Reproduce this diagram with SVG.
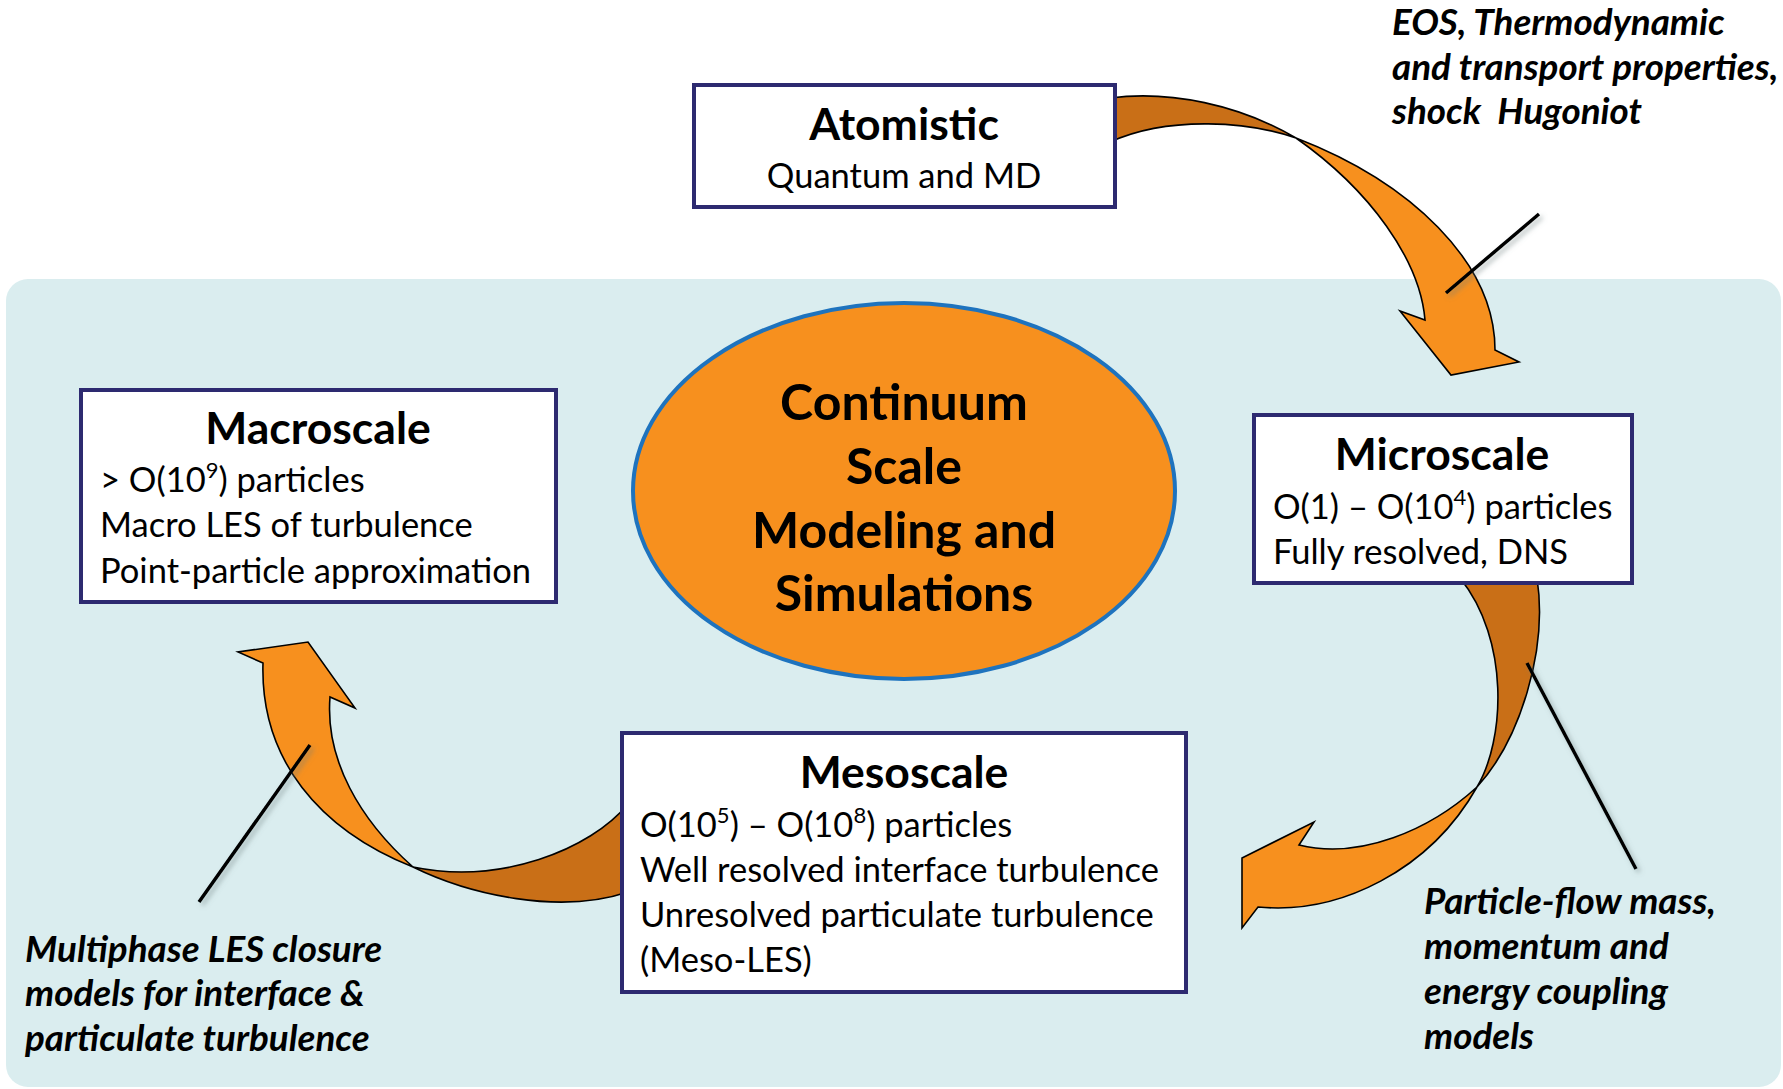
<svg xmlns="http://www.w3.org/2000/svg" width="1783" height="1089" viewBox="0 0 1783 1089">
<defs>
<style>
.bg{fill:#DAEDEF}
.box{fill:#FFFFFF;stroke:#2D2A70;stroke-width:4}
.hd{font-family:Lato,"Liberation Sans",sans-serif;font-weight:bold;font-size:44.5px;fill:#000;text-anchor:middle}
.bd{font-family:Lato,"Liberation Sans",sans-serif;font-size:34.5px;fill:#000}
.el{font-family:Lato,"Liberation Sans",sans-serif;font-weight:bold;font-size:50px;fill:#000;text-anchor:middle}
.lb{font-family:Lato,"Liberation Sans",sans-serif;font-weight:bold;font-style:italic;font-size:36.8px;fill:#000}
.lt{fill:#F7901E;stroke:#000;stroke-width:1.6;stroke-linejoin:miter}
.dk{fill:#C96F17;stroke:#000;stroke-width:1.6}
.ld{stroke:#000;stroke-width:3.5;fill:none;filter:url(#sh)}
</style>
<filter id="sh" x="-20%" y="-20%" width="140%" height="140%">
<feDropShadow dx="3" dy="3" stdDeviation="2.5" flood-color="#6b7b7d" flood-opacity="0.5"/>
</filter>
</defs>
<rect class="bg" x="6" y="279" width="1775" height="808" rx="22"/>
<g id="connectors">
<g id="arrow-atomistic-micro">
<path class="dk" d="M1110,98 C1170,90 1240,105 1296,138 C1250,122 1170,115 1110,142 Z"/>
<path class="lt" d="M1296,138 C1410,182 1495,262 1495,350 L1519,362 L1451,375 L1400,311 L1425,320 C1420,260 1370,190 1296,138 Z"/>
</g>
<g id="arrow-micro-meso">
<path class="dk" d="M1537,578 C1548,650 1520,740 1477,787 C1505,740 1510,640 1460,578 Z"/>
<path class="lt" d="M1477,787 C1430,870 1340,915 1258,907 L1242,928 L1242,858 L1314,822 L1299,845 C1360,860 1430,830 1477,787 Z"/>
</g>
<g id="arrow-meso-macro">
<path class="dk" d="M628,804 C590,850 500,885 413,867 C470,895 560,915 628,892 Z"/>
<path class="lt" d="M413,867 C320,830 260,760 263,663 L238,652 L308,642 L355,708 L330,697 C325,760 360,820 413,867 Z"/>
</g>
<line class="ld" x1="1539" y1="214" x2="1446" y2="293"/>
<line class="ld" x1="1527" y1="663" x2="1636" y2="869"/>
<line class="ld" x1="310" y1="745" x2="199" y2="902"/>
</g>
<g id="atomistic">
<rect class="box" x="694" y="85" width="421" height="122"/>
<text class="hd" x="904" y="140">Atomistic</text>
<text class="bd" x="904" y="188" text-anchor="middle">Quantum and MD</text>
</g>
<g id="continuum">
<ellipse cx="904" cy="491" rx="271" ry="188" fill="#F7901E" stroke="#1E73BE" stroke-width="4"/>
<text class="el" x="904" y="420">Continuum</text>
<text class="el" x="904" y="484">Scale</text>
<text class="el" x="904" y="548">Modeling and</text>
<text class="el" x="904" y="611">Simulations</text>
</g>
<g id="macroscale">
<rect class="box" x="81" y="390" width="475" height="212"/>
<text class="hd" x="318" y="444">Macroscale</text>
<text class="bd" x="100" y="492">&gt; O(10<tspan dy="-14" font-size="22">9</tspan><tspan dy="14">) particles</tspan></text>
<text class="bd" x="100" y="537">Macro LES of turbulence</text>
<text class="bd" x="100" y="583">Point-particle approximation</text>
</g>
<g id="microscale">
<rect class="box" x="1254" y="415" width="378" height="168"/>
<text class="hd" x="1442" y="470">Microscale</text>
<text class="bd" x="1273" y="519">O(1) – O(10<tspan dy="-14" font-size="22">4</tspan><tspan dy="14">) particles</tspan></text>
<text class="bd" x="1273" y="564">Fully resolved, DNS</text>
</g>
<g id="mesoscale">
<rect class="box" x="622" y="733" width="564" height="259"/>
<text class="hd" x="904" y="788">Mesoscale</text>
<text class="bd" x="640" y="837">O(10<tspan dy="-14" font-size="22">5</tspan><tspan dy="14">) – O(10</tspan><tspan dy="-14" font-size="22">8</tspan><tspan dy="14">) particles</tspan></text>
<text class="bd" x="640" y="882">Well resolved interface turbulence</text>
<text class="bd" x="640" y="927">Unresolved particulate turbulence</text>
<text class="bd" x="640" y="972">(Meso-LES)</text>
</g>
<g id="label-eos">
<text class="lb" x="1392" y="35">EOS, Thermodynamic</text>
<text class="lb" x="1392" y="80">and transport properties,</text>
<text class="lb" x="1392" y="124" xml:space="preserve">shock  Hugoniot</text>
</g>
<g id="label-coupling">
<text class="lb" x="1424" y="914">Particle-flow mass,</text>
<text class="lb" x="1424" y="959">momentum and</text>
<text class="lb" x="1424" y="1004">energy coupling</text>
<text class="lb" x="1424" y="1049">models</text>
</g>
<g id="label-closure">
<text class="lb" x="25" y="962">Multiphase LES closure</text>
<text class="lb" x="25" y="1006">models for interface &amp;</text>
<text class="lb" x="25" y="1051">particulate turbulence</text>
</g>
</svg>
